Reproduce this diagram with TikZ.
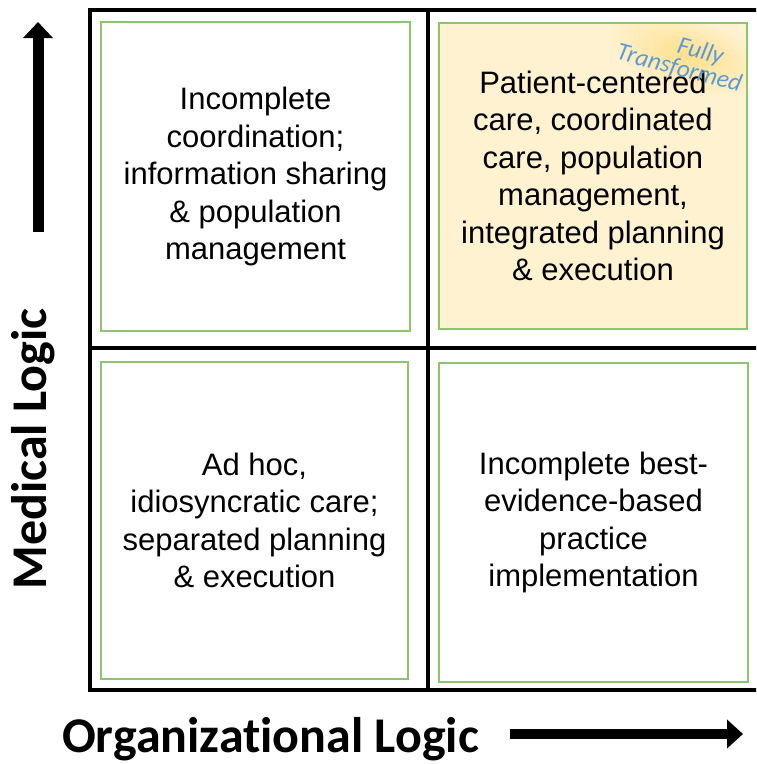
\documentclass[tikz,border=0pt]{standalone}
\usepackage{fontspec}
\setmainfont{Liberation Sans}
\newfontfamily\calib[Ligatures=NoCommon]{Carlito}
\usetikzlibrary{arrows.meta}
\definecolor{boxgreen}{RGB}{141,196,112}
\definecolor{cream}{RGB}{255,242,208}
\definecolor{glow}{RGB}{255,224,140}
\definecolor{tfblue}{RGB}{91,155,213}
\begin{document}
\begin{tikzpicture}[x=1pt,y=-1pt,
  gridline/.style={line width=4pt, line cap=rect},
  quad/.style={draw=boxgreen, line width=2pt, align=center, inner sep=0pt,
    font=\fontsize{31}{37.5}\selectfont, text=black},
  bigarrow/.style={line width=#1, line cap=butt},
  axislabel/.style={font=\calib\bfseries\fontsize{50}{56}\selectfont, inner sep=0pt}]
\useasboundingbox (0,0) rectangle (756,764);
\fill[white] (0,0) rectangle (756,764);
\begin{scope}
\clip (0,0) rectangle (756,764);
\draw[gridline] (90,10) rectangle (780,690);
\draw[gridline] (428,10) -- (428,690);
\draw[gridline] (90,348) -- (780,348);
\end{scope}
% quadrant boxes
\node[quad, minimum width=309pt, minimum height=309pt] (tl) at (255.5,176.5)
  {Incomplete\\coordination;\\information sharing\\\& population\\management};
\node[quad, fill=cream, minimum width=308pt, minimum height=306pt] (tr) at (593,176) {};
\begin{scope}
\clip (440,24) rectangle (746,328);
\foreach \p in {5,10,...,100}{
  \pgfmathsetmacro\rx{80*(105-\p)/100}
  \pgfmathsetmacro\ry{36*(105-\p)/100}
  \fill[glow!\p!cream, rotate around={-15:(688,55)}] (688,55) ellipse ({\rx pt} and {\ry pt});
}
\end{scope}
\node[quad, minimum width=308pt, minimum height=306pt] (trtext) at (593,176)
  {Patient-centered\\care, coordinated\\care, population\\management,\\integrated planning\\\& execution};
\node[quad, minimum width=307pt, minimum height=317pt] (bl) at (254.5,520.5)
  {Ad hoc,\\idiosyncratic care;\\separated planning\\\& execution};
\node[quad, minimum width=309pt, minimum height=319pt] (br) at (593.5,522.5)
  {Incomplete best-\\evidence-based\\practice\\implementation};
% fully transformed tag
\node[rotate=-15, text=tfblue, font=\calib\itshape\fontsize{25}{22}\selectfont,
  align=center, inner sep=0pt] (ft) at (682,58) {\hspace*{1.3em}Fully\\Transformed};
% axis labels
\node[axislabel, rotate=90] (ml) at (33,449) {Medical Logic};
\node[axislabel, anchor=base west] (ol) at (62,752) {Organizational Logic};
% arrows
\coordinate (vs) at (38,232);
\coordinate (ve) at (38,22);
\draw[bigarrow=11pt, -{Triangle[length=16pt,width=29pt]}] (vs) -- (ve);
\coordinate (hs) at (510,734);
\coordinate (he) at (743,734);
\draw[bigarrow=10pt, -{Triangle[length=16pt,width=28pt]}] (hs) -- (he);
\end{tikzpicture}
\end{document}
